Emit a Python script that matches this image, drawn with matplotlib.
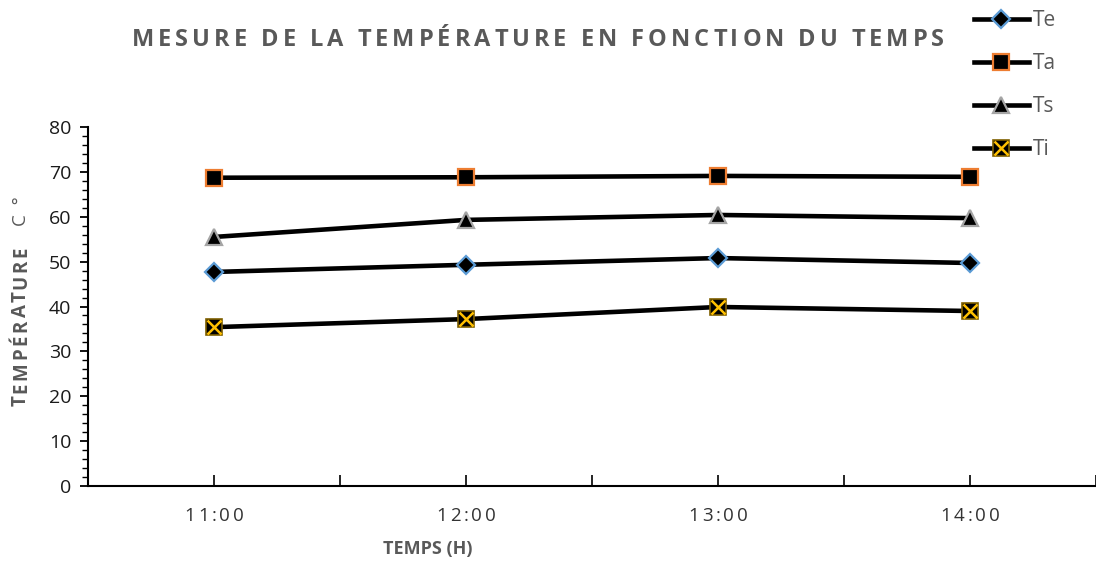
import matplotlib

matplotlib.use("Agg")
import matplotlib.pyplot as plt
from matplotlib.legend_handler import HandlerTuple
from matplotlib.ticker import MultipleLocator, NullFormatter

plt.rcParams["font.family"] = ["Open Sans", "DejaVu Sans"]

heures = ["11:00", "12:00", "13:00", "14:00"]
te = [47.7, 49.3, 50.8, 49.7]
ta = [68.7, 68.8, 69.1, 68.9]
ts = [55.5, 59.3, 60.4, 59.7]
ti = [35.4, 37.2, 39.9, 39.0]

GRIS = "#595959"


def texte_espace(fig, x_px, y_px, s, esp_px, vertical=False, **kw):
    """Texte avec espacement des lettres, centré sur (x_px, y_px) en pixels
    (origine en bas à gauche), y_px étant la ligne de base."""
    r = fig.canvas.get_renderer()

    def largeur(t):
        tt = fig.text(0, 0, t, **kw)
        w = tt.get_window_extent(renderer=r).width
        tt.remove()
        return w

    base = largeur("xx")
    adv = [largeur("x" + c + "x") - base for c in s]
    total = sum(adv) + esp_px * (len(s) - 1)
    W, H = fig.bbox.width, fig.bbox.height
    pos = (y_px if vertical else x_px) - total / 2
    for c, a in zip(s, adv):
        if vertical:
            fig.text(x_px / W, pos / H, c, rotation=90, rotation_mode="anchor",
                     ha="left", va="baseline", **kw)
        else:
            fig.text(pos / W, y_px / H, c, rotation_mode="anchor",
                     ha="left", va="baseline", **kw)
        pos += a + esp_px


fig = plt.figure(figsize=(10.96, 5.66), dpi=100)
ax = fig.add_axes([0.0803, 0.1413, 0.9197, 0.6343])

x = list(range(len(heures)))
lw = 3.3

h_te, = ax.plot(x, te, color="black", lw=lw, marker="D", ms=9,
                mfc="black", mec="#5B9BD5", mew=1.6, label="Te")
h_ta, = ax.plot(x, ta, color="black", lw=lw, marker="s", ms=11,
                mfc="black", mec="#ED7D31", mew=1.6, label="Ta")
h_ts, = ax.plot(x, ts, color="black", lw=lw, marker="^", ms=12,
                mfc="black", mec="#A5A5A5", mew=1.6, label="Ts")
h_ti, = ax.plot(x, ti, color="black", lw=lw, marker="s", ms=11,
                mfc="black", mec="#7F6000", mew=1.2, label="Ti")
# croix jaune par-dessus le carré noir
h_tix, = ax.plot(x, ti, ls="none", marker="x", ms=10, mec="#FFC000", mew=1.8)

ax.set_xlim(-0.5, 3.5)
ax.set_ylim(0, 80)
ax.set_xticks(x)
ax.xaxis.set_major_formatter(NullFormatter())
ax.xaxis.set_minor_locator(MultipleLocator(0.5))
ax.yaxis.set_major_locator(MultipleLocator(10))
ax.yaxis.set_minor_locator(MultipleLocator(2))

for s in ("top", "right"):
    ax.spines[s].set_visible(False)
for s in ("left", "bottom"):
    ax.spines[s].set_linewidth(1.5)
    ax.spines[s].set_color("black")

ax.tick_params(axis="x", which="both", direction="in", length=8, width=1.2)
ax.tick_params(axis="y", which="major", direction="out", length=6, width=1.3,
               labelsize=14, labelcolor="#1a1a1a", pad=6)
ax.tick_params(axis="y", which="minor", direction="out", length=4, width=1.0)

# étiquettes des heures, espacées
for i, h in enumerate(heures):
    xp = ax.transData.transform((i, 0))[0]
    texte_espace(fig, xp, 45, h, 3.0, fontsize=13.5, color="#333333")

# titre des axes
texte_espace(fig, 26, 566 - 326, "TEMPÉRATURE", 2.6, vertical=True,
             fontsize=13.5, fontweight="bold", color=GRIS)
fig.text(26 / 1096, (566 - 226) / 566, "C  °", rotation=90,
         rotation_mode="anchor", ha="left", va="baseline",
         fontsize=13.5, color=GRIS)

fig.text(428 / 1096, 1 - 549 / 566, "TEMPS (H)", fontsize=13,
         fontweight="bold", color=GRIS, ha="center", va="center")

texte_espace(fig, 538, 566 - 46, "MESURE DE LA TEMPÉRATURE EN FONCTION DU TEMPS",
             4.0, fontsize=17, fontweight="bold", color=GRIS)

fig.legend([h_te, h_ta, h_ts, (h_ti, h_tix)], ["Te", "Ta", "Ts", "Ti"],
           handler_map={tuple: HandlerTuple(ndivide=1)},
           loc="upper left", bbox_to_anchor=(955 / 1096, 1.015),
           frameon=False, fontsize=15, labelcolor=GRIS,
           handlelength=2.65, handletextpad=0.2, labelspacing=1.05)

fig.savefig("out.png", dpi=100)
